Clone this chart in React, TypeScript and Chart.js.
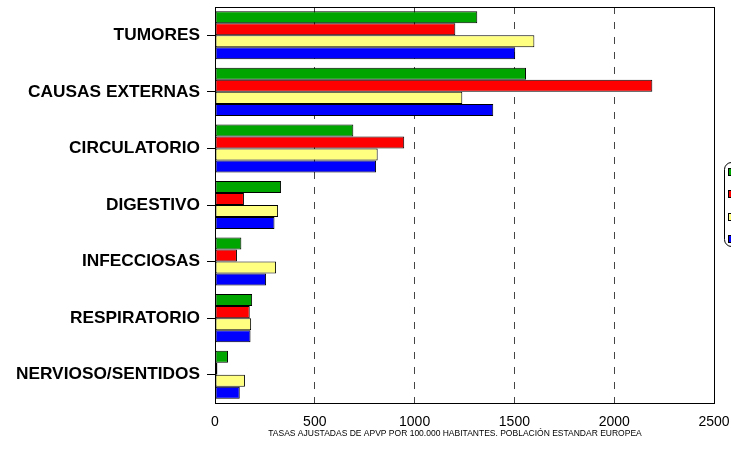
import React, { useEffect, useRef } from "react";
import { Chart, registerables } from "chart.js";

Chart.register(...registerables);

const categories = [
  "TUMORES",
  "CAUSAS EXTERNAS",
  "CIRCULATORIO",
  "DIGESTIVO",
  "INFECCIOSAS",
  "RESPIRATORIO",
  "NERVIOSO/SENTIDOS",
];

const seriesNames = ["1996", "1997", "1998", "1999"];
const greenValues = [1314, 1558, 693, 331, 132, 186, 65];
const redValues = [1204, 2191, 948, 145, 110, 174, 12];
const yellowValues = [1600, 1239, 815, 316, 306, 181, 150];
const blueValues = [1504, 1394, 807, 298, 256, 178, 124];
const seriesColors = ["#00A500", "#FF0000", "#FFFF80", "#0000FF"];

const xTitle =
  "TASAS AJUSTADAS DE APVP POR 100.000 HABITANTES. POBLACIÓN ESTANDAR EUROPEA";

const FONT = "'Liberation Sans', Arial, sans-serif";

const framePlugin = {
  id: "frameAndLegend",
  afterDatasetsDraw(chart: any) {
    const { ctx, chartArea } = chart;
    const l = Math.round(chartArea.left) + 0.5;
    const t = Math.round(chartArea.top) + 0.5;
    const r = Math.round(chartArea.right) + 0.5;
    const b = Math.round(chartArea.bottom) + 0.5;
    ctx.save();
    ctx.strokeStyle = "#000";
    ctx.lineWidth = 1;
    ctx.setLineDash([]);
    ctx.strokeRect(l, t, r - l, b - t);
    ctx.restore();
  },
  afterDraw(chart: any) {
    const { ctx } = chart;
    ctx.save();
    // axis title
    ctx.fillStyle = "#000";
    ctx.font = `8.5px ${FONT}`;
    ctx.textAlign = "center";
    ctx.textBaseline = "middle";
    ctx.fillText(xTitle, 455, 434);
    ctx.textAlign = "left";
    // legend
    const fx = 724.5, fy = 162.5, fw = 110, fh = 84, rad = 7;
    ctx.beginPath();
    ctx.moveTo(fx + rad, fy);
    ctx.lineTo(fx + fw - rad, fy);
    ctx.arcTo(fx + fw, fy, fx + fw, fy + rad, rad);
    ctx.lineTo(fx + fw, fy + fh - rad);
    ctx.arcTo(fx + fw, fy + fh, fx + fw - rad, fy + fh, rad);
    ctx.lineTo(fx + rad, fy + fh);
    ctx.arcTo(fx, fy + fh, fx, fy + fh - rad, rad);
    ctx.lineTo(fx, fy + rad);
    ctx.arcTo(fx, fy, fx + rad, fy, rad);
    ctx.closePath();
    ctx.fillStyle = "#fff";
    ctx.fill();
    ctx.strokeStyle = "#000";
    ctx.lineWidth = 1;
    ctx.stroke();
    const ys = [168, 190, 213, 235];
    chart.data.datasets.forEach((ds: any, i: number) => {
      ctx.fillStyle = ds.backgroundColor;
      ctx.fillRect(728, ys[i], 8, 8);
      ctx.strokeStyle = "#000";
      ctx.strokeRect(728.5, ys[i] + 0.5, 7, 7);
      ctx.fillStyle = "#000";
      ctx.font = `13px ${FONT}`;
      ctx.textBaseline = "middle";
      ctx.fillText(ds.label, 742, ys[i] + 4);
    });
    ctx.restore();
  },
};

export default function App() {
  const ref = useRef<HTMLCanvasElement | null>(null);

  useEffect(() => {
    if (!ref.current) return;
    const values = [greenValues, redValues, yellowValues, blueValues];
    const chart = new Chart(ref.current, {
      type: "bar",
      data: {
        labels: categories,
        datasets: values.map((v, i) => ({
          label: seriesNames[i],
          data: v,
          backgroundColor: seriesColors[i],
          borderColor: "#000",
          borderWidth: 1,
          borderSkipped: false,
          categoryPercentage: 0.85,
          barPercentage: 1,
        })),
      },
      options: {
        indexAxis: "y",
        responsive: false,
        animation: false,
        devicePixelRatio: 1,
        layout: { padding: { left: 0, top: 7, right: 17, bottom: 0 } },
        plugins: {
          legend: { display: false },
          tooltip: { enabled: false },
          title: { display: false },
        },
        scales: {
          x: {
            min: 0,
            max: 2500,
            ticks: {
              stepSize: 500,
              color: "#000",
              padding: 11,
              maxRotation: 0,
              font: { family: FONT, size: 14 },
              callback: (v: any) => String(v),
            },
            grid: {
              drawTicks: false,
              color: (c: any) =>
                c.tick && (c.tick.value === 0 || c.tick.value === 2500)
                  ? "rgba(0,0,0,0)"
                  : "#444",
              lineWidth: 1,
            },
            border: { display: true, color: "#000", width: 1, dash: [7, 8] },
            title: { display: false },
            afterFit: (s: any) => {
              s.height = 47;
              s.paddingLeft = 0;
              s.paddingRight = 0;
            },
          },
          y: {
            ticks: {
              color: "#000",
              padding: 7,
              font: { family: FONT, size: 17.3, weight: "bold" },
            },
            grid: {
              offset: false,
              drawOnChartArea: false,
              drawTicks: true,
              tickLength: 8,
              color: "#000",
            },
            border: { display: true, color: "#000", width: 1 },
            afterFit: (s: any) => {
              s.width = 215;
              s.paddingTop = 0;
              s.paddingBottom = 0;
            },
          },
        },
      },
      plugins: [framePlugin],
    } as any);
    return () => chart.destroy();
  }, []);

  return (
    <div
      style={{
        position: "absolute",
        left: 0,
        top: 0,
        width: 731,
        height: 450,
        overflow: "hidden",
        background: "#fff",
      }}
    >
      <canvas ref={ref} width={731} height={450} style={{ display: "block" }} />
    </div>
  );
}
